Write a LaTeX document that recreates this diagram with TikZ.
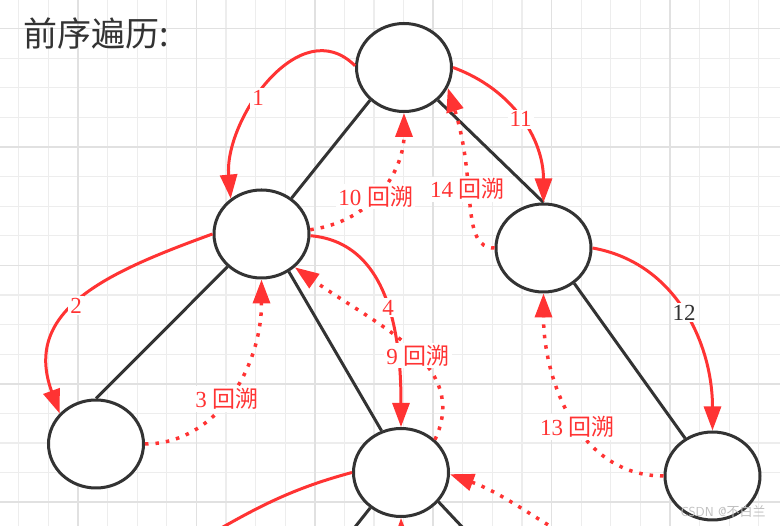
\documentclass[tikz,border=0pt]{standalone}
\usepackage{fontspec}
\setmainfont{Liberation Serif}
\newfontfamily\cjk{Noto Sans CJK SC}
\usetikzlibrary{arrows.meta,shapes.geometric}
\definecolor{ink}{HTML}{333333}
\definecolor{hl}{HTML}{FF3333}
\definecolor{gridmin}{HTML}{EDEDED}
\definecolor{gridmaj}{HTML}{E1E1E1}

\begin{document}
\begin{tikzpicture}[
  x=1pt, y=1pt,
  font=\fontsize{23}{26}\selectfont,
  >={Triangle[length=24pt, width=17pt]},
  nd/.style={ellipse, draw=ink, line width=3pt, fill=white, inner sep=0pt,
             minimum width=95pt, minimum height=88pt},
  tr/.style={ink, line width=3pt},
  ar/.style={->, hl, line width=3pt},
  bk/.style={->, hl, line width=3.5pt, dash pattern=on 3.5pt off 7pt},
  lb/.style={fill=white, inner sep=2pt, text=hl},
]
  \useasboundingbox (0,0) rectangle (780,526);
  \clip (0,0) rectangle (780,526);
  \fill[white] (0,0) rectangle (780,526);
  % grid
  \foreach \i in {0,...,26} {
    \draw[gridmin, line width=1.2pt] (18.8+29.6*\i,0) -- ++(0,526);
    \draw[gridmin, line width=1.2pt] (0,527-29.6*\i) -- ++(780,0);
  }
  \foreach \i in {0,...,6} {
    \draw[gridmaj, line width=1.6pt] (78+118.4*\i,0) -- ++(0,526);
    \draw[gridmaj, line width=1.6pt] (0,497.4-118.4*\i) -- ++(780,0);
  }

  \node[anchor=west, text=ink, font=\cjk\fontsize{34}{38}\selectfont] (title) at (20,492) {前序遍历:};

  \node[nd] (root) at (404,458.5) {};
  \node[nd] (l) at (261.5,292) {};
  \node[nd] (r) at (543.5,278) {};
  \node[nd] (ll) at (96,82) {};
  \node[nd] (lr) at (401,53.5) {};
  \node[nd] (rr) at (712.5,50) {};

  % tree edges
  \draw[tr] (root.-136) -- (l.50);
  \draw[tr] (root.-44) -- (r.90);
  \draw[tr] (l.224) -- (ll.90);
  \draw[tr] (l.-54) -- (lr.115);
  \draw[tr] (r.-49) -- (rr.126);
  \coordinate (lrbl) at (340,-20);
  \coordinate (lrbr) at (480,-20);
  \draw[tr] (lr.229) -- (lrbl);
  \draw[tr] (lr.-38) -- (lrbr);

  % traversal
  \draw[ar] (root.178) to[out=135, in=95, looseness=1.1] node[lb, pos=0.58]{1} (l.131);
  \draw[ar] (l.180) to[out=200, in=110, looseness=1.2] node[lb, pos=0.54]{2} (ll.140);
  \draw[bk] (ll.0) .. controls +(70,0) and +(0,-90) .. node[lb, pos=0.48]{3 {\cjk 回溯}} (l.270);
  \draw[ar] (l.-2) to[out=-5, in=90] node[lb, pos=0.52]{4} (lr.90);
  \draw[bk] (lr.44) .. controls +(35,75) and +(85,-60) .. node[lb, pos=0.45]{9 {\cjk 回溯}} (l.-45);
  \draw[bk] (l.5) .. controls +(70,10) and +(0,-50) .. node[lb, pos=0.42]{10 {\cjk 回溯}} (root.270);
  \draw[ar] (root.0) to[out=-20, in=90] node[lb, pos=0.5]{11} (r.90);
  \draw[bk] (r.180) .. controls +(-35,0) and +(30,-95) .. node[lb, pos=0.58]{14 {\cjk 回溯}} (root.-25);
  \draw[ar] (r.0) to[out=-10, in=90] node[lb, text=ink, pos=0.5]{12} (rr.90);
  \draw[bk] (rr.180) to[out=180, in=270] node[lb, pos=0.45]{13 {\cjk 回溯}} (r.270);

  \coordinate (lrin) at (575,-15);
  \coordinate (lrout) at (190,-20);
  \coordinate (lrup) at (402,-40);
  \draw[bk] (lrin) to[out=150, in=-20] (lr.-2);
  \draw[hl, line width=3pt] (lr.180) to[out=195, in=30] (lrout);
  \draw[ar] (lrup) -- (lr.270);

  \node[text=gray!50, font=\sffamily\fontsize{13}{14}\selectfont] (mark) at (723,14) {CSDN @{\cjk 不白兰}};
\end{tikzpicture}
\end{document}
